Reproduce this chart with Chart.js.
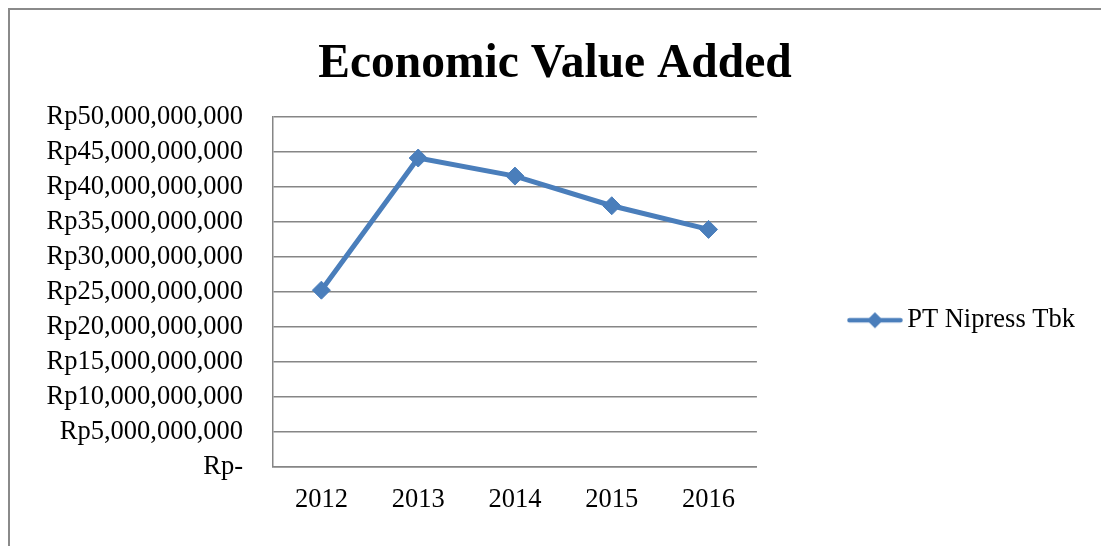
<!DOCTYPE html>
<html lang="en">
<head>
    <meta charset="UTF-8">
    <title>Economic Value Added</title>
    <script src="https://cdn.jsdelivr.net/npm/chart.js"></script>
    <style>
        * { margin: 0; padding: 0; box-sizing: border-box; }
        body { width: 1101px; height: 546px; overflow: hidden; background: #fff; position: relative; }
        .frame { position: absolute; left: 8px; top: 8px; width: 1200px; height: 700px; border-left: 2px solid #8a8a8a; border-top: 2px solid #8a8a8a; }
        #evaChart { position: absolute; left: 0; top: 0; }
    </style>
</head>
<body>
    <div class="frame"></div>
    <canvas id="evaChart" width="1101" height="546"></canvas>

    <script>
        // chart data
        const years = ['2012', '2013', '2014', '2015', '2016'];
        const evaValues = [25.26e9, 44.14e9, 41.56e9, 37.32e9, 33.94e9];
        const seriesName = 'PT Nipress Tbk';
        const yMax = 50e9;
        const yStep = 5e9;
        const currencyPrefix = 'Rp';

        const blue = '#4a7ebb';
        const gridGray = '#868686';

        Chart.defaults.font.family = "'Liberation Serif', 'Times New Roman', serif";
        Chart.defaults.color = '#000';

        // legend marker: line with a diamond in the middle
        const legendMark = document.createElement('canvas');
        legendMark.width = 56;
        legendMark.height = 20;
        const lctx = legendMark.getContext('2d');
        lctx.strokeStyle = blue;
        lctx.lineWidth = 4.5;
        lctx.lineCap = 'round';
        lctx.beginPath();
        lctx.moveTo(2.5, 10);
        lctx.lineTo(53.5, 10);
        lctx.stroke();
        lctx.fillStyle = blue;
        lctx.beginPath();
        lctx.moveTo(28 - 8, 10);
        lctx.lineTo(28, 2);
        lctx.lineTo(28 + 8, 10);
        lctx.lineTo(28, 18);
        lctx.closePath();
        lctx.fill();

        const ctx = document.getElementById('evaChart').getContext('2d');
        new Chart(ctx, {
            type: 'line',
            data: {
                labels: years,
                datasets: [{
                    label: seriesName,
                    data: evaValues,
                    borderColor: blue,
                    backgroundColor: blue,
                    borderWidth: 5,
                    tension: 0,
                    pointStyle: 'rectRot',
                    pointRadius: 9,
                    pointBorderWidth: 1,
                    pointBackgroundColor: blue,
                    pointBorderColor: blue
                }]
            },
            options: {
                responsive: false,
                animation: false,
                layout: { padding: { top: 0, right: 16, bottom: 0, left: 25 } },
                plugins: {
                    title: {
                        display: true,
                        text: 'Economic Value Added',
                        font: { size: 47.5, weight: 'bold' },
                        color: '#000',
                        padding: { top: 36, bottom: 24 }
                    },
                    legend: {
                        position: 'right',
                        maxWidth: 500,
                        // empty legend title only pushes the entry down
                        title: { display: true, text: '', padding: { top: 80, bottom: 0 } },
                        labels: {
                            usePointStyle: true,
                            pointStyle: legendMark,
                            pointStyleWidth: 38,
                            padding: 99,
                            font: { size: 26.5 },
                            color: '#000'
                        }
                    },
                    tooltip: { enabled: false }
                },
                scales: {
                    x: {
                        offset: true,
                        grid: { display: false, drawTicks: false },
                        border: { display: true, color: gridGray, width: 1.5 },
                        ticks: { font: { size: 26.5 }, padding: 17 },
                        afterFit: s => { s.height = 79; }
                    },
                    y: {
                        min: 0,
                        max: yMax,
                        grid: { color: gridGray, lineWidth: 1.5, drawTicks: false },
                        border: { display: true, color: gridGray, width: 1.5 },
                        ticks: {
                            stepSize: yStep,
                            padding: 30,
                            font: { size: 26.5 },
                            callback: v => v === 0 ? currencyPrefix + '-' : currencyPrefix + v.toLocaleString('en-US')
                        },
                        afterFit: s => { s.width = 248; }
                    }
                }
            }
        });
    </script>
</body>
</html>
